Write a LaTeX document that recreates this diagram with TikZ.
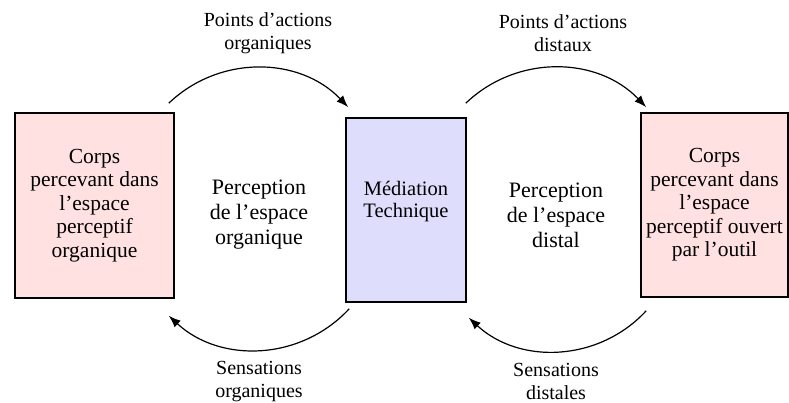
\documentclass[tikz,border=0pt]{standalone}
\usepackage{fontspec}
\setmainfont{Liberation Serif}
\usepackage{tikz}
\usetikzlibrary{arrows.meta, positioning, calc}
\definecolor{mydark}{RGB}{0,0,0}
\definecolor{mypink}{RGB}{255,225,225}
\definecolor{myblue}{RGB}{222,222,252}
\tikzset{
  bodybox/.style={rectangle, draw=mydark, fill=mypink, align=center,
    font=\fontsize{21.5}{23.5}\selectfont, line width=1.6pt, inner sep=0pt},
  medbox/.style={rectangle, draw=mydark, fill=myblue, align=center,
    font=\fontsize{20.5}{21.5}\selectfont, line width=1.6pt, inner sep=0pt},
  flowarrow/.style={-{Latex[length=12pt, width=9pt]}, line width=1.2pt, color=mydark},
  edgelbl/.style={align=center, font=\fontsize{20}{23}\selectfont, inner sep=0pt},
  zonelbl/.style={align=center, font=\fontsize{22}{25}\selectfont, inner sep=0pt}
}
\begin{document}
\begin{tikzpicture}[x=1pt, y=1pt]
  \useasboundingbox (0,0) rectangle (789,403);

  % les trois blocs
  \node[bodybox, minimum width=159pt, minimum height=185pt] (corpsorg) at (94.5,197.5)
    {Corps\\percevant dans\\l'espace\\perceptif\\organique};
  \node[medbox, minimum width=120pt, minimum height=184pt] (mediation) at (406,193)
    {Médiation\\Technique\\\mbox{}};
  \node[bodybox, minimum width=147pt, minimum height=184pt] (corpsdist) at (714.5,198)
    {Corps\\percevant dans\\l'espace\\perceptif ouvert\\par l'outil};

  % zones de perception
  \node[zonelbl] (zoneorg) at (259,188) {Perception\\de l'espace\\organique};
  \node[zonelbl] (zonedist) at (556,188) {Perception\\de l'espace\\distal};

  % fleches du haut
  \draw[flowarrow] ([shift={(-6,9)}]corpsorg.north east) to[bend left=45]
    ([shift={(3,10)}]mediation.north west);
  \draw[flowarrow] ([shift={(-1,14)}]mediation.north east) to[bend left=45]
    ([shift={(6,5)}]corpsdist.north west);

  % fleches du bas
  \draw[flowarrow] ([shift={(4,-6)}]mediation.south west) to[bend left=45]
    ([shift={(-6,-17)}]corpsorg.south east);
  \draw[flowarrow] ([shift={(6,-13)}]corpsdist.south west) to[bend left=45]
    ([shift={(2,-15)}]mediation.south east);

  % etiquettes des fleches
  \node[edgelbl] (actorg) at (268,369.5) {Points d'actions\\organiques};
  \node[edgelbl] (actdist) at (563,369.5) {Points d'actions\\distaux};
  \node[edgelbl] (sensorg) at (259,21.5) {Sensations\\organiques};
  \node[edgelbl] (sensdist) at (556,21.5) {Sensations\\distales};
\end{tikzpicture}
\end{document}
